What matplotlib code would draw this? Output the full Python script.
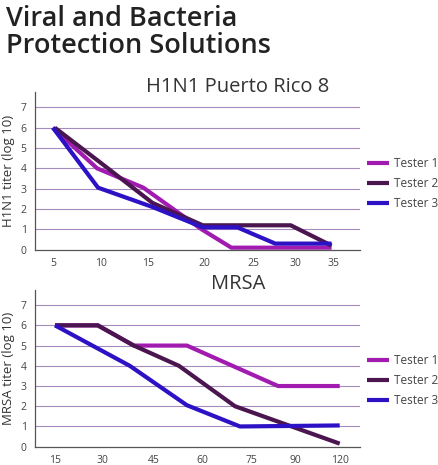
import numpy as np
import matplotlib
matplotlib.use("Agg")
import matplotlib.pyplot as plt

# ---------------- data ----------------
h1n1_ticks = [5, 10, 15, 20, 25, 30, 35]
h1n1_t1_x = [5, 9.6, 14.5, 19.8, 22.8, 34.7]
h1n1_t1_y = [6, 4.0, 3.05, 1.0, 0.1, 0.1]
h1n1_t2_x = [5.2, 9.9, 15.4, 19.9, 29.4, 34.7]
h1n1_t2_y = [6, 4.3, 2.3, 1.2, 1.2, 0.2]
h1n1_t3_x = [5, 9.7, 15.4, 19.9, 23.4, 27.6, 34.7]
h1n1_t3_y = [6, 3.05, 2.1, 1.1, 1.1, 0.3, 0.3]

mrsa_ticks = [15, 30, 45, 60, 75, 90, 120]
mrsa_t1_x = [15, 28.4, 39.1, 55.3, 84.1, 120]
mrsa_t1_y = [6, 6, 5, 5, 3, 3]
mrsa_t2_x = [15, 28.4, 39.1, 52.8, 69.9, 120]
mrsa_t2_y = [6, 6, 5, 4, 2, 0.15]
mrsa_t3_x = [15, 37.9, 55.3, 71.4, 120]
mrsa_t3_y = [6, 4, 2.05, 1.0, 1.05]

series_names = ["Tester 1", "Tester 2", "Tester 3"]
colors = ["#a11bb0", "#4b164f", "#2c12c4"]

# relative positions of the (unevenly spaced) tick labels along each x axis
h1n1_tick_frac = [0.055, 0.203, 0.348, 0.52, 0.671, 0.803, 0.92]
mrsa_tick_frac = [0.0615, 0.209, 0.366, 0.514, 0.668, 0.80, 0.938]


def make_scale(ticks, fracs):
    t = np.asarray(ticks, float)
    f = np.asarray(fracs, float)
    t_ext = np.concatenate([[t[0] - (t[1] - t[0]) * 50], t, [t[-1] + (t[-1] - t[-2]) * 50]])
    f_ext = np.concatenate([[f[0] - (f[1] - f[0]) * 50], f, [f[-1] + (f[-1] - f[-2]) * 50]])

    def fwd(x):
        return np.interp(np.asarray(x, float), t_ext, f_ext)

    def inv(y):
        return np.interp(np.asarray(y, float), f_ext, t_ext)

    return fwd, inv


plt.rcParams['font.family'] = ['Open Sans', 'DejaVu Sans']

fig = plt.figure(figsize=(4.39, 4.65), dpi=100)
fig.patch.set_facecolor("white")

fig.text(0.014, 0.99, "Viral and Bacteria\nProtection Solutions", ha="left", va="top",
         fontsize=19.5, fontweight="semibold", color="#222222", linespacing=0.98)

ax1 = fig.add_axes([0.0797, 0.463, 0.740, 0.339])
ax2 = fig.add_axes([0.0797, 0.0394, 0.740, 0.337])

panels = [
    (ax1, h1n1_ticks, h1n1_tick_frac,
     [(h1n1_t1_x, h1n1_t1_y), (h1n1_t2_x, h1n1_t2_y), (h1n1_t3_x, h1n1_t3_y)],
     "H1N1 Puerto Rico 8", "H1N1 titer (log 10)"),
    (ax2, mrsa_ticks, mrsa_tick_frac,
     [(mrsa_t1_x, mrsa_t1_y), (mrsa_t2_x, mrsa_t2_y), (mrsa_t3_x, mrsa_t3_y)],
     "MRSA", "MRSA titer (log 10)"),
]

for ax, ticks, fracs, data, title, ylabel in panels:
    fwd, inv = make_scale(ticks, fracs)
    ax.set_xscale("function", functions=(fwd, inv))
    for (xs, ys), name, c in zip(data, series_names, colors):
        ax.plot(xs, ys, color=c, lw=3.0, label=name, solid_capstyle="butt",
                solid_joinstyle="miter")
    ax.set_xlim(float(inv(0.0)), float(inv(1.0)))
    ax.set_ylim(0, 7.75)
    ax.set_xticks(ticks)
    ax.set_xticklabels([str(t) for t in ticks])
    ax.xaxis.set_minor_locator(matplotlib.ticker.NullLocator())
    ax.set_yticks(range(0, 8))
    ax.tick_params(axis="both", length=0, labelsize=7.5, colors="#444444")
    ax.tick_params(axis="x", pad=6)
    ax.tick_params(axis="y", pad=6)
    for y in range(1, 8):
        ax.axhline(y, color="#a48cbf", lw=0.8, zorder=0)
    for s in ["top", "right"]:
        ax.spines[s].set_visible(False)
    ax.spines["left"].set_color("#555555")
    ax.spines["bottom"].set_color("#555555")
    ax.spines["left"].set_linewidth(0.9)
    ax.spines["bottom"].set_linewidth(0.9)
    ax.set_ylabel(ylabel, fontsize=9.5, color="#333333", labelpad=4)
    ax.text(0.625, 1.035, title, transform=ax.transAxes, ha="center", va="center",
            fontsize=14.5, color="#333333")
    leg = ax.legend(loc="center left", bbox_to_anchor=(1.0, 0.42), frameon=False,
                    fontsize=8.5, handlelength=1.9, handletextpad=0.4,
                    labelspacing=0.6, borderaxespad=0.2)
    for t in leg.get_texts():
        t.set_color("#444444")

fig.savefig("out.png", dpi=100)
